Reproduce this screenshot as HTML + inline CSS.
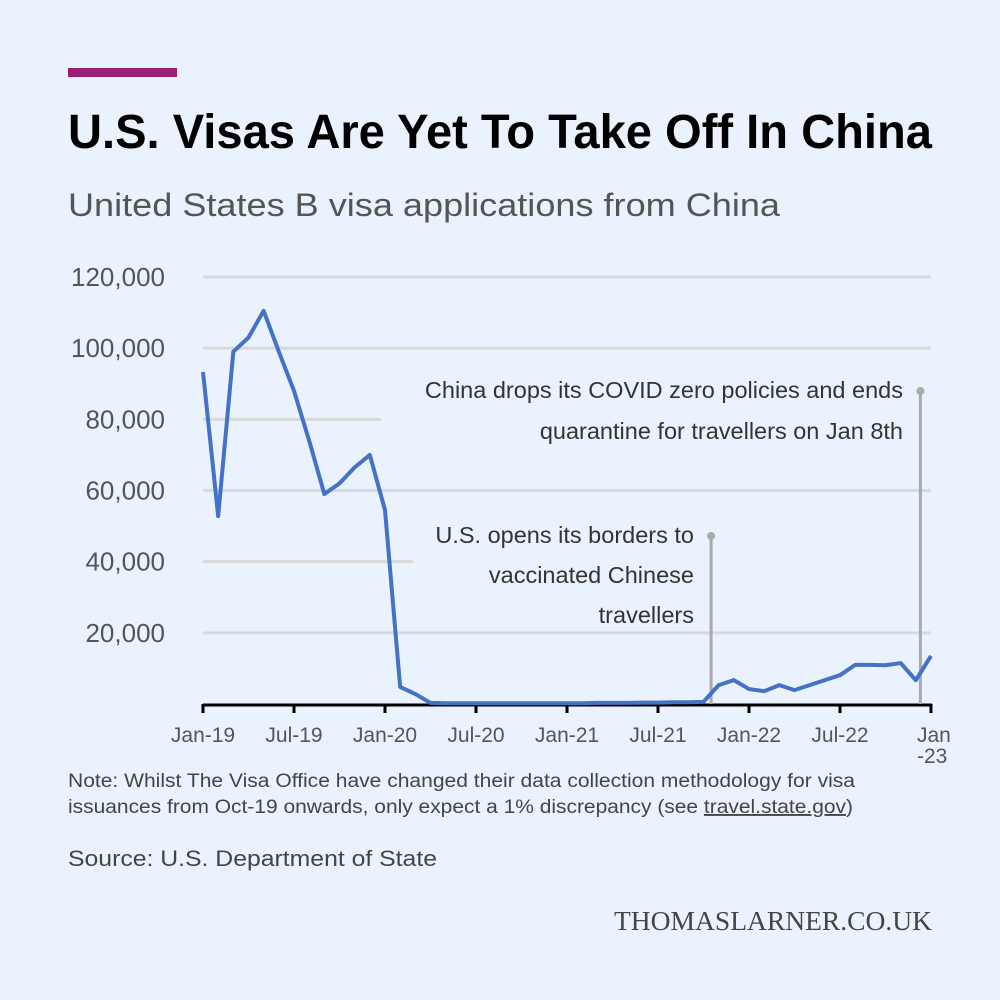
<!DOCTYPE html>
<html><head><meta charset="utf-8"><style>
body{margin:0;background:#eaf2fe;}
svg{display:block;font-family:"Liberation Sans",sans-serif;}
</style></head><body>
<svg width="1000" height="1000" viewBox="0 0 1000 1000">
<rect width="1000" height="1000" fill="#eaf2fe"/>
<rect x="68" y="68" width="109" height="9" fill="#9b1f74"/>
<text x="68" y="148" font-size="48" font-weight="bold" fill="#000" textLength="864" lengthAdjust="spacingAndGlyphs">U.S. Visas Are Yet To Take Off In China</text>
<text x="68" y="216" font-size="32" fill="#555" textLength="712" lengthAdjust="spacingAndGlyphs">United States B visa applications from China</text>
<g id="grid"></g>
<g id="ylabels"></g>
<g id="xaxis"></g>
<g id="annot"></g>
<path id="line" fill="none" stroke="#4472c4" stroke-width="4" stroke-linejoin="round"/>
<text x="68" y="787" font-size="19" fill="#444" textLength="787" lengthAdjust="spacingAndGlyphs">Note: Whilst The Visa Office have changed their data collection methodology for visa</text>
<text x="68" y="813" font-size="19" fill="#444" textLength="785" lengthAdjust="spacingAndGlyphs">issuances from Oct-19 onwards, only expect a 1% discrepancy (see <tspan text-decoration="underline">travel.state.gov</tspan>)</text>
<text x="68" y="866" font-size="22" fill="#444" textLength="369" lengthAdjust="spacingAndGlyphs">Source: U.S. Department of State</text>
<text x="932" y="930" font-size="27" fill="#444" text-anchor="end" font-family="Liberation Serif,serif" textLength="318" lengthAdjust="spacingAndGlyphs">THOMASLARNER.CO.UK</text>
</svg>
<script>
const series=[93300,52800,99000,103000,110500,99000,88000,74000,59000,62000,66500,70000,54500,4800,2800,300,200,200,200,200,200,200,200,200,200,200,300,300,300,400,400,500,500,600,5300,6700,4200,3600,5300,3900,5300,6700,8100,11000,11000,10900,11500,6700,13500];
const yTicks=[20000,40000,60000,80000,100000,120000];
const yTickLabels=["20,000","40,000","60,000","80,000","100,000","120,000"];
const xTickMonths=[0,6,12,18,24,30,36,42,48];
const xTickLabels=["Jan-19","Jul-19","Jan-20","Jul-20","Jan-21","Jul-21","Jan-22","Jul-22","Jan"];
const NS="http://www.w3.org/2000/svg";
const X0=203,X1=931,Y0=704,Y1=277;
const xs=m=>X0+(X1-X0)*m/48;
const ys=v=>Y0-(Y0-Y1)*v/120000;
function mk(t,a,p){const e=document.createElementNS(NS,t);for(const k in a)e.setAttribute(k,a[k]);(p||document.querySelector('svg')).appendChild(e);return e;}
const grid=document.getElementById('grid'),yl=document.getElementById('ylabels'),xa=document.getElementById('xaxis'),an=document.getElementById('annot');
const gridEnds={40000:413,80000:381};
yTicks.forEach((v,i)=>{
 const g=mk('line',{x1:X0,x2:gridEnds[v]||X1,y1:ys(v),y2:ys(v),stroke:'#d9d9d9','stroke-width':3},grid);
 
 
 const t=mk('text',{x:165,y:ys(v)+9,'font-size':26,fill:'#555','text-anchor':'end'},yl);
 t.textContent=yTickLabels[i];
 
 
});
const ax=mk('line',{x1:X0,x2:X1+1,y1:Y0+1,y2:Y0+1,stroke:'#000','stroke-width':3},xa);


xTickMonths.forEach((m,i)=>{
 const tk=mk('line',{x1:xs(m),x2:xs(m),y1:Y0,y2:Y0+9,stroke:'#000','stroke-width':3},xa);
 
 
 const t=mk('text',{x:xs(m)-(i==8?14:0),y:742,'font-size':21,fill:'#555','text-anchor':i==8?'start':'middle'},xa);
 t.textContent=xTickLabels[i];
 
 
});
const t2=mk('text',{x:xs(48)-14,y:763,'font-size':21,fill:'#555'},xa);
t2.textContent='-23';


document.getElementById('line').setAttribute('d',series.map((v,i)=>(i?'L':'M')+xs(i)+','+ys(v)).join(''));
function annot(m,ytop,lines,tx,ty,dy){
 const l=mk('line',{x1:xs(m),x2:xs(m),y1:ytop,y2:Y0,stroke:'#aaa','stroke-width':3},an);
 
 
 const c=mk('circle',{cx:xs(m),cy:ytop,r:4,fill:'#aaa'},an);
 
 
 lines.forEach((s,i)=>{const t=mk('text',{x:tx,y:ty+i*dy,'font-size':23.5,fill:'#333','text-anchor':'end'},an);t.textContent=s;
 
 });
}
annot(33.5,536,["U.S. opens its borders to","vaccinated Chinese","travellers"],694,543,40);
annot(47.3,391,["China drops its COVID zero policies and ends","quarantine for travellers on Jan 8th"],903,398,41);
</script>
</body></html>
